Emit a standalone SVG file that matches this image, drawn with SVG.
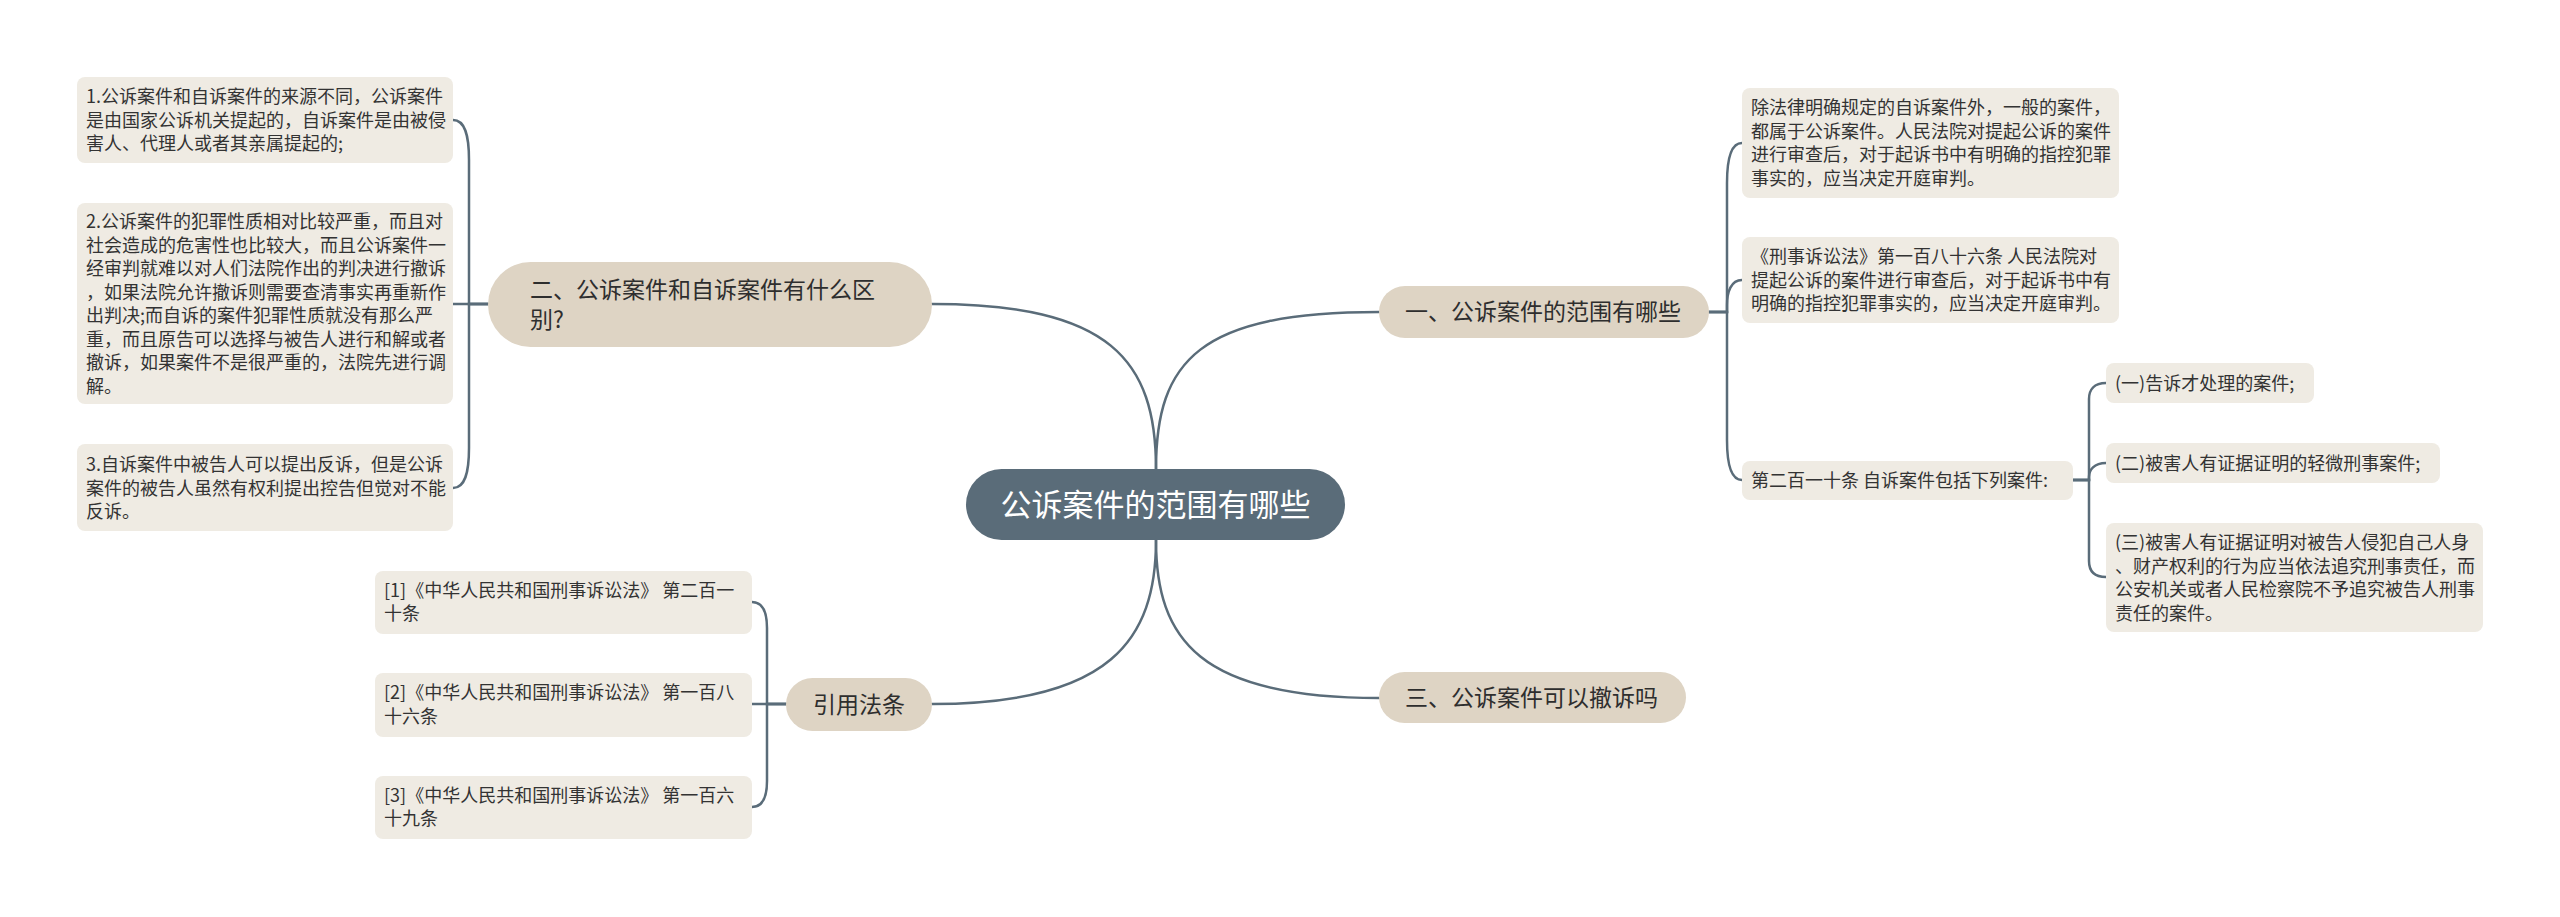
<svg xmlns="http://www.w3.org/2000/svg" width="2560" height="917" viewBox="0 0 2560 917">
<style>
.bg{fill:#ffffff}
.conn path{fill:none;stroke:#5a6c79;stroke-width:2.5;stroke-linecap:round}
.leaf rect{fill:#efebe3}
.branch rect{fill:#ded4c4}
.center rect{fill:#5a6c79}
.lt{font-family:"Noto Sans CJK SC","Noto Sans",sans-serif;font-size:18px;fill:#333333}
.bt{font-family:"Noto Sans CJK SC","Noto Sans",sans-serif;font-size:23px;fill:#2e2e2e}
.ct{font-family:"Noto Sans CJK SC","Noto Sans",sans-serif;font-size:31px;fill:#ffffff}
</style>
<rect class="bg" x="0" y="0" width="2560" height="917"/>
<g id="connectors" class="conn">
<path d="M1156 469 C1156 360 1110 304 932 304"/>
<path d="M1156 469 C1156 360 1200 312 1379 312"/>
<path d="M1156 540 C1156 640 1110 704 932 704"/>
<path d="M1156 540 C1156 640 1200 698 1379 698"/>
<path d="M488 304 H469 V160 C469 135 465 120 453 120"/>
<path d="M488 304 H453"/>
<path d="M488 304 H469 V448 C469 473 465 488 453 488"/>
<path d="M1709 312 H1727 V183 C1727 158 1731 143 1742 143"/>
<path d="M1709 312 H1727 V305 C1727 292 1731 280 1742 280"/>
<path d="M1709 312 H1727 V440 C1727 465 1731 480 1742 480"/>
<path d="M2073 480 H2089 V399 C2089 390 2094 383 2106 383"/>
<path d="M2073 480 H2089 V477 C2089 470 2094 463 2106 463"/>
<path d="M2073 480 H2089 V561 C2089 571 2094 577 2106 577"/>
<path d="M786 704 H767 V628 C767 612 763 602 752 602"/>
<path d="M786 704 H752"/>
<path d="M786 704 H767 V781 C767 797 763 807 752 807"/>
</g>
<g id="center" class="center">
<rect x="966" y="469" width="379" height="71" rx="35.5"/>
<text class="ct" x="1155.5" y="516" text-anchor="middle">公诉案件的范围有哪些</text>
</g>
<g id="b2" class="branch">
<rect x="488" y="262" width="444" height="85" rx="42.5"/>
<text class="bt" x="530" y="298">二、公诉案件和自诉案件有什么区</text>
<text class="bt" x="530" y="328">别?</text>
</g>
<g id="b1" class="branch">
<rect x="1379" y="286" width="330" height="52" rx="26"/>
<text class="bt" x="1405" y="320">一、公诉案件的范围有哪些</text>
</g>
<g id="b3" class="branch">
<rect x="1379" y="672" width="307" height="51" rx="25.5"/>
<text class="bt" x="1405" y="706">三、公诉案件可以撤诉吗</text>
</g>
<g id="bref" class="branch">
<rect x="786" y="678" width="146" height="53" rx="26.5"/>
<text class="bt" x="813" y="713">引用法条</text>
</g>
<g id="l1" class="leaf">
<rect x="77" y="77" width="376" height="86" rx="8"/>
<text class="lt" x="86" y="103">1.公诉案件和自诉案件的来源不同，公诉案件</text>
<text class="lt" x="86" y="126.5">是由国家公诉机关提起的，自诉案件是由被侵</text>
<text class="lt" x="86" y="150">害人、代理人或者其亲属提起的;</text>
</g>
<g id="l2" class="leaf">
<rect x="77" y="203" width="376" height="201" rx="8"/>
<text class="lt" x="86" y="228">2.公诉案件的犯罪性质相对比较严重，而且对</text>
<text class="lt" x="86" y="251.5">社会造成的危害性也比较大，而且公诉案件一</text>
<text class="lt" x="86" y="275">经审判就难以对人们法院作出的判决进行撤诉</text>
<text class="lt" x="86" y="298.5">，如果法院允许撤诉则需要查清事实再重新作</text>
<text class="lt" x="86" y="322">出判决;而自诉的案件犯罪性质就没有那么严</text>
<text class="lt" x="86" y="345.5">重，而且原告可以选择与被告人进行和解或者</text>
<text class="lt" x="86" y="369">撤诉，如果案件不是很严重的，法院先进行调</text>
<text class="lt" x="86" y="392.5">解。</text>
</g>
<g id="l3" class="leaf">
<rect x="77" y="444" width="376" height="87" rx="8"/>
<text class="lt" x="86" y="471">3.自诉案件中被告人可以提出反诉，但是公诉</text>
<text class="lt" x="86" y="494.5">案件的被告人虽然有权利提出控告但觉对不能</text>
<text class="lt" x="86" y="518">反诉。</text>
</g>
<g id="r1" class="leaf">
<rect x="1742" y="88" width="377" height="110" rx="8"/>
<text class="lt" x="1751" y="114">除法律明确规定的自诉案件外，一般的案件，</text>
<text class="lt" x="1751" y="137.5">都属于公诉案件。人民法院对提起公诉的案件</text>
<text class="lt" x="1751" y="161">进行审查后，对于起诉书中有明确的指控犯罪</text>
<text class="lt" x="1751" y="184.5">事实的，应当决定开庭审判。</text>
</g>
<g id="r2" class="leaf">
<rect x="1742" y="237" width="377" height="86" rx="8"/>
<text class="lt" x="1751" y="263">《刑事诉讼法》第一百八十六条 人民法院对</text>
<text class="lt" x="1751" y="286.5">提起公诉的案件进行审查后，对于起诉书中有</text>
<text class="lt" x="1751" y="310">明确的指控犯罪事实的，应当决定开庭审判。</text>
</g>
<g id="r3" class="leaf">
<rect x="1742" y="461" width="331" height="39" rx="8"/>
<text class="lt" x="1751" y="487">第二百一十条 自诉案件包括下列案件:</text>
</g>
<g id="r3a" class="leaf">
<rect x="2106" y="363" width="208" height="40" rx="8"/>
<text class="lt" x="2115" y="389.5">(一)告诉才处理的案件;</text>
</g>
<g id="r3b" class="leaf">
<rect x="2106" y="443" width="334" height="40" rx="8"/>
<text class="lt" x="2115" y="469.5">(二)被害人有证据证明的轻微刑事案件;</text>
</g>
<g id="r3c" class="leaf">
<rect x="2106" y="523" width="377" height="109" rx="8"/>
<text class="lt" x="2115" y="549">(三)被害人有证据证明对被告人侵犯自己人身</text>
<text class="lt" x="2115" y="572.5">、财产权利的行为应当依法追究刑事责任，而</text>
<text class="lt" x="2115" y="596">公安机关或者人民检察院不予追究被告人刑事</text>
<text class="lt" x="2115" y="619.5">责任的案件。</text>
</g>
<g id="ref1" class="leaf">
<rect x="375" y="571" width="377" height="63" rx="8"/>
<text class="lt" x="384" y="596.5">[1]《中华人民共和国刑事诉讼法》 第二百一</text>
<text class="lt" x="384" y="620">十条</text>
</g>
<g id="ref2" class="leaf">
<rect x="375" y="673" width="377" height="64" rx="8"/>
<text class="lt" x="384" y="699">[2]《中华人民共和国刑事诉讼法》 第一百八</text>
<text class="lt" x="384" y="722.5">十六条</text>
</g>
<g id="ref3" class="leaf">
<rect x="375" y="776" width="377" height="63" rx="8"/>
<text class="lt" x="384" y="801.5">[3]《中华人民共和国刑事诉讼法》 第一百六</text>
<text class="lt" x="384" y="825">十九条</text>
</g>
</svg>
